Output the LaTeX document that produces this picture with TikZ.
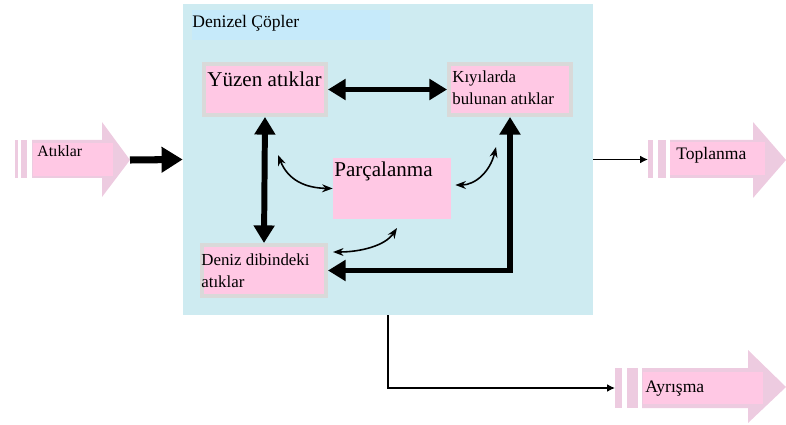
\documentclass[tikz,border=0pt]{standalone}
\usepackage{fontspec}
\setmainfont{Liberation Serif}
\usepackage{tikz}
\usetikzlibrary{arrows.meta,calc}
\definecolor{seablue}{RGB}{206,235,241}
\definecolor{titleblue}{RGB}{198,234,250}
\definecolor{boxpink}{RGB}{255,200,228}
\definecolor{boxgrey}{RGB}{217,217,217}
\definecolor{arrowpink}{RGB}{237,203,224}
\tikzset{
    panel/.style={fill=seablue, minimum width=8.2cm, minimum height=6.22cm, inner sep=0pt},
    titlebox/.style={fill=titleblue, minimum width=3.96cm, minimum height=0.6cm, inner sep=0pt},
    wastebox/.style={draw=boxgrey, line width=0.08cm, fill=boxpink, minimum width=2.44cm, minimum height=1.02cm, inner sep=0pt},
    splitbox/.style={fill=boxpink, minimum width=2.36cm, minimum height=1.22cm, inner sep=0pt},
    flow/.style={fill=arrowpink},
    flowlabel/.style={fill=boxpink},
    bigtxt/.style={font=\fontsize{12}{14}\selectfont, inner sep=0pt, anchor=base west},
    txt/.style={font=\fontsize{9.6}{11}\selectfont, inner sep=0pt, anchor=base west},
    bond/.style={line width=3.4pt, {Triangle[length=10pt,width=11.5pt]}-{Triangle[length=10pt,width=11.5pt]}},
    feed/.style={line width=4pt, -{Triangle[length=12pt,width=14pt]}},
    outflow/.style={line width=1.1pt, -{Latex[length=4.5pt,width=4.5pt]}},
    swap/.style={line width=0.9pt, {Stealth[length=6pt,width=4.5pt]}-{Stealth[length=6pt,width=4.5pt]}},
}

\begin{document}
\begin{tikzpicture}[x=0.02cm, y=-0.02cm]
    \useasboundingbox (0,0) rectangle (786,425);

    % Sea panel
    \node[panel] (panel) at (388,159.5) {};
    \node[titlebox] (title) at (291,25) {};
    \node[txt, font=\fontsize{10}{12}\selectfont] (titleT) at (192,28) {Denizel Çöpler};

    % Waste boxes
    \node[wastebox] (yuzen) at (265,89.5) {};
    \node[bigtxt] (yuzenT) at (207,87) {Yüzen atıklar};

    \node[wastebox] (kiyi) at (510,89.5) {};
    \node[txt] (kiyiA) at (452,83) {Kıyılarda};
    \node[txt] (kiyiB) at (452,105) {bulunan atıklar};

    \node[wastebox, minimum width=2.48cm] (deniz) at (264,270.5) {};
    \node[txt] (denizA) at (201,265) {Deniz dibindeki};
    \node[txt] (denizB) at (201,287) {atıklar};

    \node[splitbox] (parca) at (392,188.5) {};
    \node[bigtxt] (parcaT) at (334,177) {Parçalanma};

    % Transport between boxes
    \draw[bond] (yuzen.east) -- (kiyi.west);
    \draw[bond] (yuzen.south) -- (deniz.north);
    \draw[bond] (deniz.east) -| (kiyi.south);

    % Fragmentation exchanges
    \coordinate (fragA) at (278,155);
    \coordinate (fragB) at (496,147);
    \coordinate (fragC) at (333,252);
    \coordinate (fragD) at (397,228);
    \draw[swap] (fragA) .. controls (288,180) and (305,188) .. (parca.west);
    \draw[swap] ($(parca.east)+(4,-3.5)$) .. controls (475,185) and (490,172) .. (fragB);
    \draw[swap] (fragC) .. controls (360,252) and (385,246) .. (fragD);

    % Input: Atiklar
    \fill[flow] (15,140) rectangle (18,178);
    \fill[flow] (21,140) rectangle (27,178);
    \fill[flow] (32,140) -- (102,140) -- (102,122) -- (130,160) -- (102,197) -- (102,178) -- (32,178) -- cycle;
    \fill[flowlabel] (33,143) rectangle (113,176);
    \node[txt, font=\fontsize{9}{11}\selectfont] (inT) at (37,157) {Atıklar};
    \coordinate (inTip) at (130,160);
    \draw[feed] (inTip) -- (panel.west);

    % Output: Toplanma
    \fill[flow] (648,140) rectangle (653,178);
    \fill[flow] (658,140) rectangle (666,178);
    \fill[flow] (670,140) -- (753,140) -- (753,122) -- (786,160) -- (753,198) -- (753,178) -- (670,178) -- cycle;
    \fill[flowlabel] (670,142) rectangle (765,175);
    \node[txt, font=\fontsize{10}{12}\selectfont] (topT) at (676,160) {Toplanma};
    \coordinate (topTail) at (648,159.5);
    \draw[outflow] (panel.east) -- (topTail);

    % Output: Ayrisma
    \fill[flow] (615,368) rectangle (622,408);
    \fill[flow] (627,368) rectangle (638,408);
    \fill[flow] (642,368) -- (748,368) -- (748,350) -- (786,387) -- (748,423) -- (748,408) -- (642,408) -- cycle;
    \fill[flowlabel] (643,372) rectangle (763,404);
    \node[txt, font=\fontsize{10}{12}\selectfont] (ayrT) at (645,392) {Ayrışma};
    \coordinate (ayrTail) at (615,388);
    \draw[outflow] (panel.south) |- (ayrTail);
\end{tikzpicture}
\end{document}
